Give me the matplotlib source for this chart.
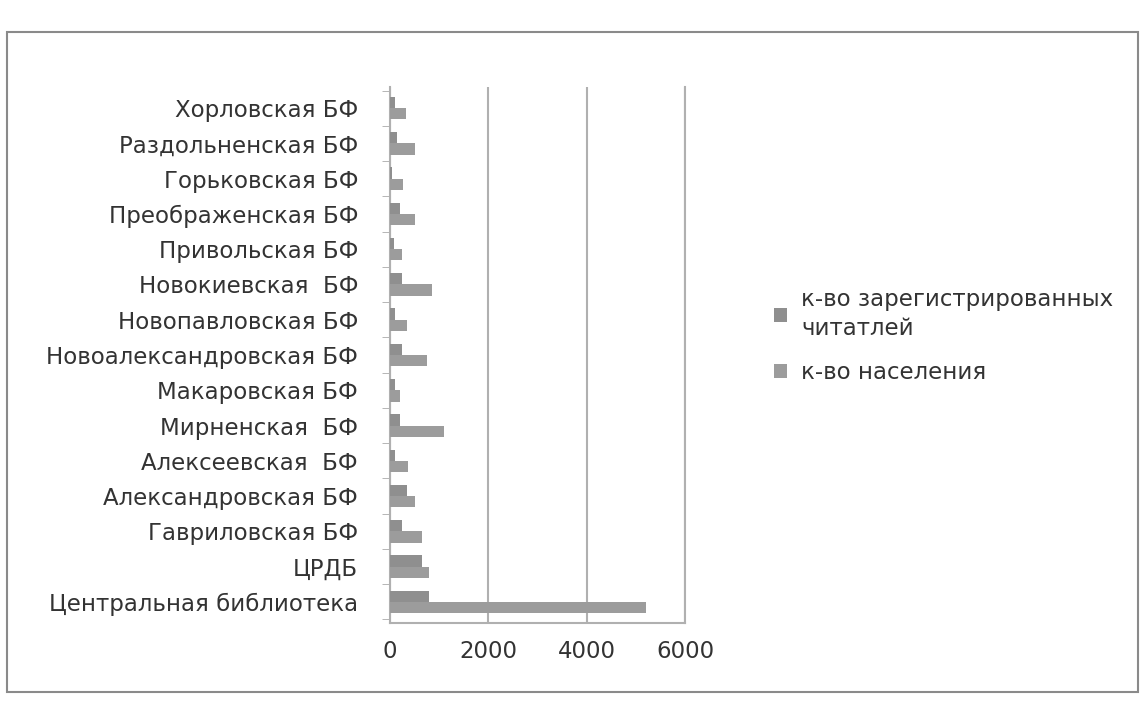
import numpy as np
import matplotlib
matplotlib.use("Agg")
import matplotlib.pyplot as plt
from matplotlib.patches import Rectangle

categories = [
    "Центральная библиотека", "ЦРДБ", "Гавриловская БФ", "Александровская БФ",
    "Алексеевская  БФ", "Мирненская  БФ", "Макаровская БФ",
    "Новоалександровская БФ", "Новопавловская БФ", "Новокиевская  БФ",
    "Привольская БФ", "Преображенская БФ", "Горьковская БФ",
    "Раздольненская БФ", "Хорловская БФ",
]
readers = [800, 650, 250, 350, 100, 200, 100, 250, 100, 250, 80, 200, 50, 150, 100]
population = [5200, 800, 650, 500, 370, 1100, 200, 750, 350, 850, 250, 500, 270, 500, 320]
xticks = [0, 2000, 4000, 6000]
series_names = ["к-во зарегистрированных\nчитатлей", "к-во населения"]

plt.rcParams['font.family'] = ['DejaVu Sans']
fig = plt.figure(figsize=(11.42, 7.02), dpi=100)
fig.patch.set_facecolor('white')

# outer chart border
fig.add_artist(Rectangle((7 / 1142, 1 - 692 / 702), 1131 / 1142, 660 / 702,
                         transform=fig.transFigure, fill=False,
                         edgecolor='#8a8a8a', lw=1.5))

ax = fig.add_axes([390 / 1142, 1 - 623 / 702, 295 / 1142, 536 / 702])
y = np.arange(len(categories))
h = 0.32
ax.barh(y + h / 2, readers, height=h, color='#8f8f8f', label=series_names[0], zorder=3)
ax.barh(y - h / 2, population, height=h, color='#9c9c9c', label=series_names[1], zorder=3)

fs = 16.5
ax.set_xlim(0, 6000)
ax.set_ylim(-0.6, len(categories) - 0.4)
ax.set_xticks(xticks)
ax.set_xticklabels([str(t) for t in xticks], fontsize=fs, color='#333333')
ax.set_yticks(y)
ax.set_yticklabels(categories, fontsize=fs, color='#333333')
ax.set_yticks(np.arange(len(categories) + 1) - 0.5, minor=True)
ax.tick_params(axis='y', which='major', length=0, pad=23)
ax.tick_params(axis='y', which='minor', length=6, color='#aaaaaa')
ax.tick_params(axis='x', length=0, pad=12)
ax.grid(axis='x', color='#b0b0b0', lw=1.5, zorder=0)
ax.spines['top'].set_visible(False)
for s in ['right', 'left', 'bottom']:
    ax.spines[s].set_color('#b0b0b0')
    ax.spines[s].set_linewidth(1.5)

leg = fig.legend(loc='center left', bbox_to_anchor=(753 / 1142, 1 - 336 / 702),
                 frameon=False, fontsize=fs, handlelength=0.6, handleheight=0.6,
                 handletextpad=0.6, labelspacing=0.9, labelcolor='#333333')
for t in leg.get_texts():
    t.set_linespacing(1.35)

fig.savefig("out.png", dpi=100)
